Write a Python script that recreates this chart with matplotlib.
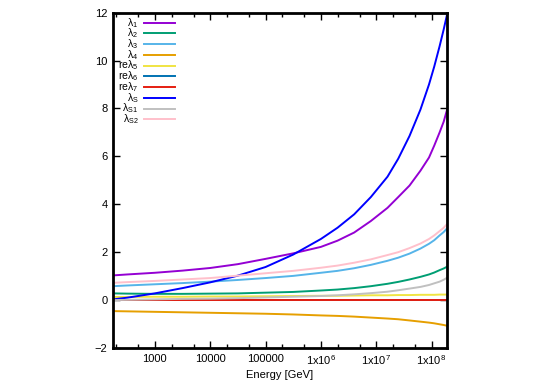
import numpy as np
import matplotlib
matplotlib.use("Agg")
import matplotlib.pyplot as plt
from matplotlib.lines import Line2D
from matplotlib.ticker import FixedLocator, NullFormatter

plt.rcParams["font.family"] = ["Liberation Sans", "DejaVu Sans"]
plt.rcParams["mathtext.fontset"] = "custom"
plt.rcParams["mathtext.rm"] = "Liberation Sans"
plt.rcParams["mathtext.it"] = "Liberation Sans:italic"

energy = [175, 316, 1e3, 3.16e3, 1e4, 3.16e4, 1e5, 3.16e5, 1e6, 2e6, 4e6,
          8e6, 1.6e7, 2.5e7, 4e7, 6.3e7, 9e7, 1.12e8, 1.4e8, 1.66e8, 1.9e8]

lam1 = [1.03, 1.07, 1.14, 1.23, 1.34, 1.50, 1.72, 1.95, 2.22, 2.48, 2.82,
        3.30, 3.85, 4.30, 4.78, 5.40, 5.95, 6.45, 7.00, 7.45, 7.93]
lam2 = [0.28, 0.27, 0.26, 0.26, 0.27, 0.28, 0.31, 0.34, 0.40, 0.44, 0.50,
        0.58, 0.68, 0.76, 0.86, 0.97, 1.07, 1.15, 1.25, 1.32, 1.39]
lam3 = [0.58, 0.61, 0.66, 0.71, 0.77, 0.84, 0.92, 1.01, 1.14, 1.22, 1.33,
        1.47, 1.64, 1.77, 1.94, 2.15, 2.35, 2.50, 2.70, 2.84, 2.99]
lam4 = [-0.46, -0.47, -0.49, -0.51, -0.53, -0.55, -0.57, -0.60, -0.64, -0.66,
        -0.69, -0.73, -0.77, -0.80, -0.85, -0.90, -0.94, -0.97, -1.01, -1.04,
        -1.07]
relam5 = [0.13, 0.13, 0.14, 0.14, 0.15, 0.15, 0.16, 0.17, 0.18, 0.18, 0.19,
          0.20, 0.20, 0.21, 0.21, 0.22, 0.22, 0.22, 0.23, 0.23, 0.23]
relam6 = [0.0] * 21
relam7 = [0.0] * 21
lamS = [0.03, 0.10, 0.28, 0.50, 0.74, 1.02, 1.38, 1.90, 2.55, 3.02, 3.58,
        4.30, 5.15, 5.90, 6.85, 7.95, 9.00, 9.75, 10.60, 11.30, 11.90]
lamS1 = [0.00, 0.01, 0.03, 0.05, 0.06, 0.08, 0.11, 0.14, 0.17, 0.20, 0.24,
         0.29, 0.35, 0.41, 0.48, 0.55, 0.63, 0.70, 0.77, 0.85, 0.93]
lamS2 = [0.72, 0.75, 0.80, 0.86, 0.92, 1.02, 1.12, 1.22, 1.35, 1.44, 1.56,
         1.70, 1.88, 2.00, 2.17, 2.36, 2.55, 2.70, 2.88, 3.02, 3.17]

series = [
    (r"λ$_1$", lam1, "#9400d3"),
    (r"λ$_2$", lam2, "#009e73"),
    (r"λ$_3$", lam3, "#56b4e9"),
    (r"λ$_4$", lam4, "#e69f00"),
    (r"reλ$_5$", relam5, "#f0e442"),
    (r"reλ$_6$", relam6, "#0072b2"),
    (r"reλ$_7$", relam7, "#e51e10"),
    (r"λ$_{\mathrm{S}}$", lamS, "#0000ff"),
    (r"λ$_{\mathrm{S1}}$", lamS1, "#c0c0c0"),
    (r"λ$_{\mathrm{S2}}$", lamS2, "#ffc0cb"),
]

x_major = [1e3, 1e4, 1e5, 1e6, 1e7, 1e8]
x_labels = ["1000", "10000", "100000", r"1x10$^6$", r"1x10$^7$", r"1x10$^8$"]

fig = plt.figure(figsize=(5.45, 3.82), dpi=100)
ax = fig.add_axes([0.2073, 0.089, 0.6128, 0.878])

for label, vals, col in series:
    ax.plot(energy, vals, color=col, lw=1.4, solid_joinstyle="round")

ax.set_xscale("log")
ax.set_xlim(175, 1.9e8)
ax.set_ylim(-2, 12)
ax.set_yticks(range(-2, 13, 2))
ax.xaxis.set_major_locator(FixedLocator(x_major))
ax.set_xticklabels(x_labels)
minors = [m * 10 ** k for k in range(2, 9) for m in (2, 5)]
ax.xaxis.set_minor_locator(FixedLocator(minors))
ax.xaxis.set_minor_formatter(NullFormatter())
ax.tick_params(which="both", direction="in", top=True, right=True,
               labelsize=8, width=1.0, pad=4)
ax.tick_params(which="major", length=5)
ax.tick_params(which="minor", length=3)
for s in ax.spines.values():
    s.set_linewidth(2)
ax.set_xlabel("Energy [GeV]", fontsize=8, labelpad=2)

# gnuplot-style key: text right-aligned, sample line to the right
tr = ax.transAxes
for i, (label, vals, col) in enumerate(series):
    y = 0.970 - i * 0.032
    ax.text(0.076, y, label, transform=tr, ha="right", va="center", fontsize=7.5)
    ax.add_line(Line2D([0.094, 0.186], [y, y], transform=tr, color=col, lw=1.4))

fig.savefig("out.png", dpi=100)
